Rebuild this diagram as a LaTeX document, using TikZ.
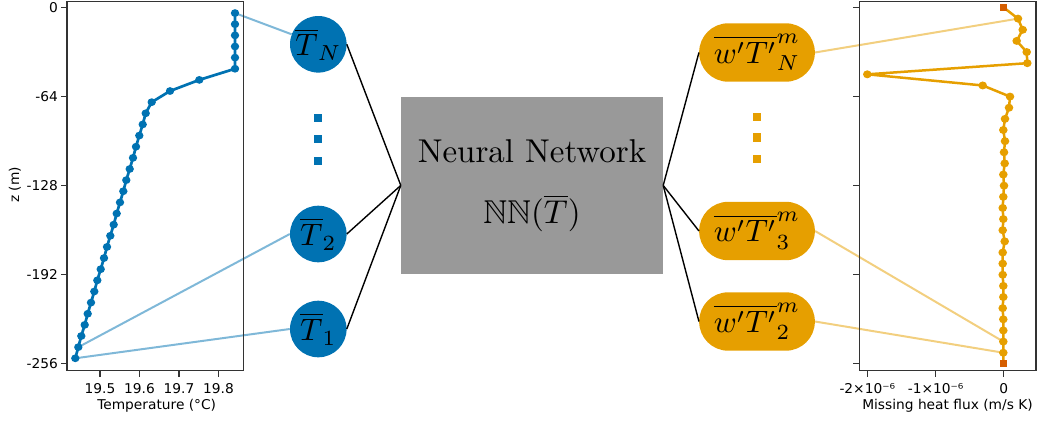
\documentclass[tikz,border=0pt]{standalone}
\usepackage{graphicx}
\usepackage{amssymb}
\usepackage{fontspec}
\newfontfamily\plotfont{DejaVu Sans}[FakeStretch=1.02]
\definecolor{cblue}{HTML}{0072B2}
\definecolor{corange}{HTML}{E69F00}
\definecolor{cverm}{HTML}{D55E00}
\definecolor{nngray}{HTML}{999999}
\tikzset{
  innode/.style={circle, fill=cblue, minimum size=56.6pt, inner sep=0pt},
  outnode/.style={rectangle, rounded corners=29pt, fill=corange, minimum width=115.7pt, minimum height=58.4pt, inner sep=0pt},
  nnbox/.style={rectangle, fill=nngray, minimum width=262pt, minimum height=176.7pt, inner sep=0pt},
  link/.style={black, line width=1.4pt},
  bluelink/.style={cblue, opacity=0.5, line width=2pt},
  orangelink/.style={corange, opacity=0.5, line width=2pt},
  axframe/.style={black!80, line width=1.3pt},
  axtick/.style={black!80, line width=1.1pt},
  ticklabel/.style={font=\plotfont\fontsize{13.5}{15}\selectfont, inner sep=0pt},
  dotsq/.style={rectangle, minimum size=8.3pt, inner sep=0pt},
  endsq/.style={rectangle, fill=cverm, minimum size=7pt, inner sep=0pt},
}
\begin{document}
\begin{tikzpicture}[x=1pt,y=-1pt]
\useasboundingbox (0,0) rectangle (1039,421);
% data coordinates
\foreach \xx [count=\i] in {235,235,235,235,235,235,199.3,170,151.7,145.7,142.7,139.3,136,133,129.7,126.3,123.3,120,116.7,113.7,110.3,107,104,100.7,97.3,94.3,91,87.7,84.7,81.3,78.3,75.3}
  {\coordinate (L\i) at (\xx,{7.5+1.392*(8*\i-4)});}
\foreach \xx [count=\i] in {1003.7,1018,1022.7,1016.7,1026.7,1027.3,867.3,982.7,1010,1009,1005,1003.3,1005,1004,1004.7,1003.3,1004,1003.3,1002.7,1003.3,1002.7,1004.7,1002.7,1002.7,1002.7,1003.3,1003.3,1002.7,1003.3,1003.3,1003.3,1003.3,1003.3}
  {\coordinate (R\i) at (\xx,{7.5+1.392*8*(\i-1)});}

% nodes
\node[innode] (TN) at (318.3,44.3) {\scalebox{3.1}{$\overline{T}_N$}};
\node[innode] (T2) at (318.3,234) {\scalebox{3.1}{$\overline{T}_2$}};
\node[innode] (T1) at (318.3,329) {\scalebox{3.1}{$\overline{T}_1$}};
\node[nnbox] (nn) at (532,185.4) {\scalebox{3.3}{\begin{tabular}{@{}c@{}}Neural Network\\[6pt] $\mathbb{NN}(\overline{T})$\end{tabular}}};
\node[outnode] (wN) at (757,52.5) {\scalebox{3.1}{$\overline{w'T'}^m_N$}};
\node[outnode] (w3) at (757,231) {\scalebox{3.1}{$\overline{w'T'}^m_3$}};
\node[outnode] (w2) at (757,321.5) {\scalebox{3.1}{$\overline{w'T'}^m_2$}};

% vertical dots
\foreach \yy [count=\i] in {118.2,139,160.7}{
  \node[dotsq, fill=cblue] (bd\i) at (318.2,\yy) {};
  \node[dotsq, fill=corange] (od\i) at (757,\yy-1.5) {};
}

% black links
\draw[link] (TN.east) -- (nn.west);
\draw[link] (T2.east) -- (nn.west);
\draw[link] (T1.east) -- (nn.west);
\draw[link] (nn.east) -- (wN.west);
\draw[link] (nn.east) -- (w3.west);
\draw[link] (nn.east) -- (w2.west);

% light links to profiles
\draw[bluelink] (L1) -- (TN);
\draw[bluelink] (L31) -- (T2.west);
\draw[bluelink] (L32) -- (T1.west);
\draw[orangelink] (wN.east) -- (R2);
\draw[orangelink] (w3.east) -- (R31);
\draw[orangelink] (w2.east) -- (R32);

% left axes
\draw[axframe] (67,1.5) rectangle (243.3,370.7);
\foreach \yy/\lab in {7.5/0,96.6/-64,185.7/-128,274.8/-192,363.9/-256}{
  \draw[axtick] (61,\yy) -- (67,\yy);
  \node[ticklabel, anchor=east] (yl\lab) at (58,\yy) {\lab};
}
\foreach \xx/\lab in {100/19.5,139.5/19.6,179/19.7,218.5/19.8}{
  \draw[axtick] (\xx,370.7) -- (\xx,376.5);
  \node[ticklabel, anchor=base] (xl\lab) at (\xx,393) {\lab};
}
\node[ticklabel, anchor=base] (tlab) at (156.7,409) {Temperature (°C)};
\node[ticklabel, rotate=90] (zlab) at (15,185) {z (m)};

% right axes
\draw[axframe] (859.3,1.5) rectangle (1036,370.7);
\foreach \yy in {7.5,96.6,185.7,274.8,363.9}{
  \draw[axtick] (853.3,\yy) -- (859.3,\yy);
}
\foreach \xx/\lab/\nm in {867.3/-2×10⁻⁶/a,935.7/-1×10⁻⁶/b,1003.7/0/c}{
  \draw[axtick] (\xx,370.7) -- (\xx,376.5);
  \node[ticklabel, anchor=base] (fl\nm) at (\xx,393) {\lab};
}
\node[ticklabel, anchor=base] (flab) at (947.5,409) {Missing heat flux (m/s K)};

% profiles
\draw[cblue, line width=2.7pt, line join=round] (L1) \foreach \i in {2,...,32}{-- (L\i)};
\foreach \i in {1,...,32}{\fill[cblue] (L\i) ellipse [x radius=4.2pt, y radius=3.9pt];}
\draw[corange, line width=2.5pt, line join=round] (R1) \foreach \i in {2,...,33}{-- (R\i)};
\foreach \i in {2,...,32}{\fill[corange] (R\i) ellipse [x radius=4.3pt, y radius=4pt];}
\node[endsq] (sqtop) at (R1) {};
\node[endsq] (sqbot) at (R33) {};
\end{tikzpicture}
\end{document}
